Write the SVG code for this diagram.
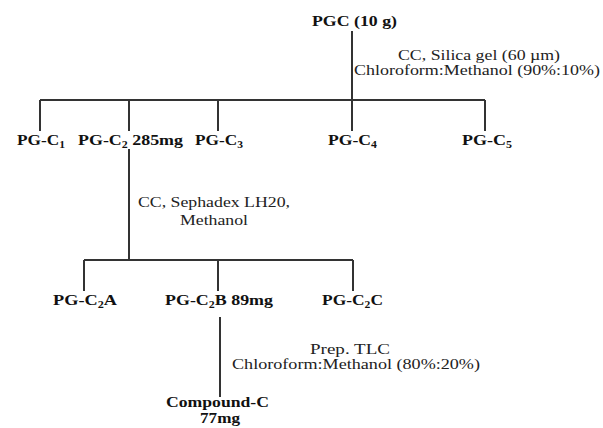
<svg xmlns="http://www.w3.org/2000/svg" width="603" height="428" viewBox="0 0 603 428">
<style>
.b{font-family:"Liberation Serif","Times New Roman",serif;font-weight:bold;font-size:15px;fill:#111}
.r{font-family:"Liberation Serif","Times New Roman",serif;font-size:15px;fill:#222}
.s{font-size:10px}
.c{font-size:14px}
.ln{stroke:#333;stroke-width:2;fill:none}
</style>
<rect width="603" height="428" fill="#fff"/>
<g id="connectors" class="ln">
<path d="M352 31V100M40 100H485M40 100V131M129 100V131M218 100V131M352 100V131M485 100V131"/>
<path d="M129 149V260M84 260H353M84 260V291M218 260V291M353 260V291"/>
<path d="M220 317V397"/>
</g>
<g id="labels">
<text class="r" x="398" y="60" textLength="162" lengthAdjust="spacingAndGlyphs">CC, Silica gel (60 µm)</text>
<text class="r" x="354" y="75" textLength="246" lengthAdjust="spacingAndGlyphs">Chloroform:Methanol (90%:10%)</text>
<text class="r" x="138" y="207" textLength="152" lengthAdjust="spacingAndGlyphs">CC, Sephadex LH20,</text>
<text class="r" x="180" y="225" textLength="68" lengthAdjust="spacingAndGlyphs">Methanol</text>
<text class="r" x="310" y="354" textLength="80" lengthAdjust="spacingAndGlyphs">Prep. TLC</text>
<text class="r" x="232" y="369" textLength="248" lengthAdjust="spacingAndGlyphs">Chloroform:Methanol (80%:20%)</text>
</g>
<g id="PGC"><text class="b" x="312" y="26" textLength="85" lengthAdjust="spacingAndGlyphs">PGC (10 g)</text></g>
<g id="PG-C1"><text class="b" x="17" y="145" textLength="48" lengthAdjust="spacingAndGlyphs">PG-C<tspan class="s" dy="3">1</tspan></text></g>
<g id="PG-C2"><text class="b" x="78" y="145" textLength="105" lengthAdjust="spacingAndGlyphs">PG-C<tspan class="s" dy="3">2</tspan><tspan dy="-3"> 285mg</tspan></text></g>
<g id="PG-C3"><text class="b" x="195" y="145" textLength="48" lengthAdjust="spacingAndGlyphs">PG-C<tspan class="s" dy="3">3</tspan></text></g>
<g id="PG-C4"><text class="b" x="328" y="145" textLength="49" lengthAdjust="spacingAndGlyphs">PG-C<tspan class="s" dy="3">4</tspan></text></g>
<g id="PG-C5"><text class="b" x="462" y="145" textLength="50" lengthAdjust="spacingAndGlyphs">PG-C<tspan class="s" dy="3">5</tspan></text></g>
<g id="PG-C2A"><text class="b" x="53" y="305" textLength="64" lengthAdjust="spacingAndGlyphs">PG-C<tspan class="s" dy="3">2</tspan><tspan dy="-3">A</tspan></text></g>
<g id="PG-C2B"><text class="b" x="165" y="305" textLength="108" lengthAdjust="spacingAndGlyphs">PG-C<tspan class="s" dy="3">2</tspan><tspan dy="-3">B 89mg</tspan></text></g>
<g id="PG-C2C"><text class="b" x="322" y="305" textLength="61" lengthAdjust="spacingAndGlyphs">PG-C<tspan class="s" dy="3">2</tspan><tspan dy="-3">C</tspan></text></g>
<g id="Compound-C">
<text class="b c" x="166" y="407" textLength="103" lengthAdjust="spacingAndGlyphs">Compound-C</text>
<text class="b c" x="200" y="423" textLength="40" lengthAdjust="spacingAndGlyphs">77mg</text>
</g>
</svg>
